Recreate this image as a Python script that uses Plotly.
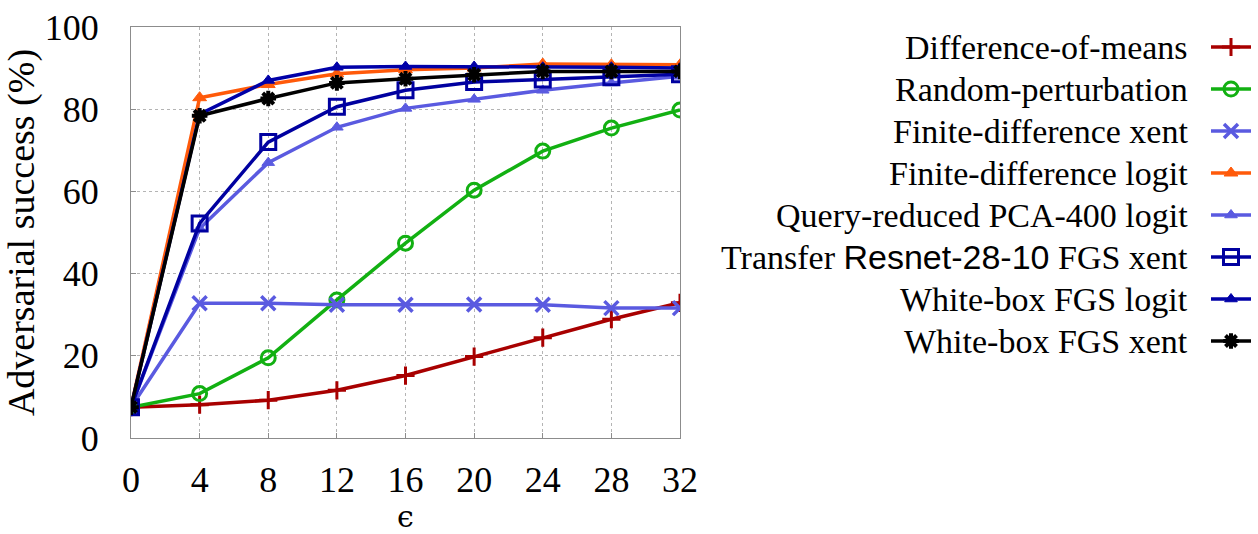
import plotly.graph_objects as go

eps = [0, 4, 8, 12, 16, 20, 24, 28, 32]

labels = [
    "Difference-of-means",
    "Random-perturbation",
    "Finite-difference xent",
    "Finite-difference logit",
    "Query-reduced PCA-400 logit",
    "Transfer Resnet-28-10 FGS xent",
    "White-box FGS logit",
    "White-box FGS xent",
]
label_html = [
    "Difference-of-means",
    "Random-perturbation",
    "Finite-difference xent",
    "Finite-difference logit",
    "Query-reduced PCA-400 logit",
    "Transfer <span style=\"font-family:'Liberation Sans'\">Resnet-28-10</span> FGS xent",
    "White-box FGS logit",
    "White-box FGS xent",
]

diff_means = [7.5, 8.1, 9.2, 11.6, 15.2, 19.8, 24.4, 28.9, 32.9]
random_pert = [7.5, 10.8, 19.5, 33.6, 47.4, 60.3, 69.8, 75.4, 79.8]
fd_xent = [7.5, 32.8, 32.8, 32.4, 32.4, 32.5, 32.4, 31.6, 31.6]
fd_logit = [7.5, 82.8, 86.0, 88.6, 89.6, 90.0, 91.0, 90.8, 90.8]
pca_logit = [7.5, 51.0, 67.0, 75.6, 80.2, 82.4, 84.6, 86.4, 88.0]
transfer = [7.5, 52.2, 72.0, 80.6, 84.6, 86.6, 87.2, 87.8, 88.5]
wb_logit = [7.5, 78.8, 87.0, 90.2, 90.4, 90.4, 90.2, 90.2, 90.0]
wb_xent = [7.5, 78.4, 82.6, 86.4, 87.4, 88.4, 89.2, 89.2, 89.2]

series = [diff_means, random_pert, fd_xent, fd_logit, pca_logit, transfer, wb_logit, wb_xent]
colors = ["#A80000", "#12B012", "#5A5AE0", "#FF5A0A", "#5A5AE0", "#0000A0", "#0000A8", "#000000"]
symbols = ["cross-thin", "circle-open", "x-thin", "triangle-up", "triangle-up",
           "square-open", "triangle-up", "asterisk"]
msizes = [13, 14, 14, 12, 11, 15, 11, 13]
mlw = [3, 3, 3.5, 1, 1, 3, 1, 4]

fig = go.Figure()
for name, ys, c, s, ms, lw in zip(labels, series, colors, symbols, msizes, mlw):
    # legend keys only (symbol on the right); the label text is drawn as an annotation
    fig.add_trace(go.Scatter(
        x=eps, y=ys, name="", mode="lines+markers",
        line=dict(color=c, width=3.5),
        marker=dict(symbol=s, size=ms, color=c, line=dict(color=c, width=lw)),
        hovertemplate=name + "<br>ε=%{x}<br>%{y}%<extra></extra>",
    ))

# plot area pixels: x 131..680, y 27..438
L, R, T, B = 131, 680, 27, 438
W, H = 1258, 534
pw, ph = R - L, B - T

annotations = []
row0, dy = 47, 42.0
for i, t in enumerate(label_html):
    yc = row0 + dy * i
    annotations.append(dict(
        text=t, xref="paper", yref="paper",
        x=(1190 - L) / pw, y=(B - yc) / ph,
        xanchor="right", yanchor="middle", showarrow=False,
        font=dict(family="Liberation Serif", size=34, color="black"),
    ))

axis_common = dict(
    showline=True, linecolor="#8c8c8c", linewidth=1, mirror=True,
    showgrid=True, gridcolor="#b4b4b4", griddash="dot", gridwidth=1,
    ticks="inside", ticklen=5, tickcolor="#8c8c8c",
    zeroline=False,
    tickfont=dict(family="Liberation Serif", size=36, color="black"),
)

legend_top = 21
legend_h = 8 * 42 + 10
legend_center = legend_top + legend_h / 2

fig.update_layout(
    width=W, height=H,
    margin=dict(l=L, r=W - R, t=T, b=H - B, autoexpand=False),
    paper_bgcolor="white", plot_bgcolor="white",
    xaxis=dict(range=[0, 32], tickvals=eps, ticklabelstandoff=10,
               title=dict(text="ϵ", font=dict(family="DejaVu Serif", size=30, color="black"), standoff=18),
               **axis_common),
    yaxis=dict(range=[0, 100], tickvals=[0, 20, 40, 60, 80, 100], ticklabelstandoff=24,
               title=dict(text="Adversarial success (%)", font=dict(family="Liberation Serif", size=38, color="black"), standoff=0),
               **axis_common),
    legend=dict(
        x=(1206 - L) / pw, xanchor="left",
        y=(B - legend_center) / ph, yanchor="middle",
        font=dict(family="Liberation Serif", size=30, color="black"),
        bgcolor="rgba(0,0,0,0)", borderwidth=0, itemwidth=40,
    ),
    annotations=annotations,
    showlegend=True,
)

fig.write_html("out.html")
